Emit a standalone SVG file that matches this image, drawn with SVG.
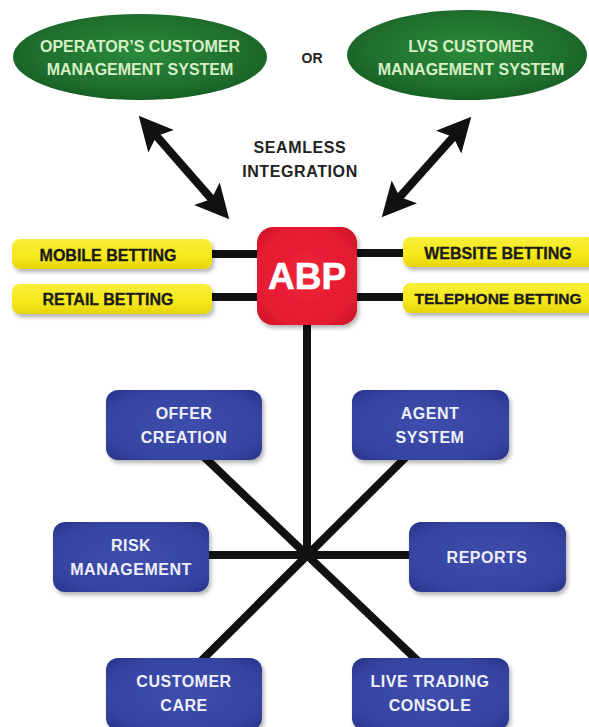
<svg xmlns="http://www.w3.org/2000/svg" width="589" height="727" viewBox="0 0 589 727">
<defs>
<radialGradient id="gGreen" cx="50%" cy="45%" r="60%">
<stop offset="0" stop-color="#2a8a3c"/><stop offset="0.7" stop-color="#1f6e2d"/><stop offset="1" stop-color="#155a22"/>
</radialGradient>
<radialGradient id="gBlue" cx="50%" cy="50%" r="70%">
<stop offset="0" stop-color="#3e4dac"/><stop offset="0.75" stop-color="#3543a0"/><stop offset="1" stop-color="#283288"/>
</radialGradient>
<radialGradient id="gRed" cx="50%" cy="50%" r="70%">
<stop offset="0" stop-color="#ef2438"/><stop offset="0.75" stop-color="#e31a30"/><stop offset="1" stop-color="#c40f25"/>
</radialGradient>
<linearGradient id="gYellow" x1="0" y1="0" x2="0" y2="1">
<stop offset="0" stop-color="#f8ee3a"/><stop offset="0.6" stop-color="#f5e81a"/><stop offset="1" stop-color="#e6d40c"/>
</linearGradient>
<filter id="sh" x="-10%" y="-20%" width="125%" height="150%">
<feDropShadow dx="2" dy="3" stdDeviation="2" flood-color="#000" flood-opacity="0.3"/>
</filter>
<marker id="ah" markerUnits="userSpaceOnUse" markerWidth="34" markerHeight="36" viewBox="0 0 34 36" refX="19" refY="18" orient="auto-start-reverse">
<path d="M0,1 L34,18 L0,35 L7,18 z" fill="#111"/>
</marker>
<style>
.ell{fill:url(#gGreen);}
.et{font-family:"Liberation Sans",Arial,sans-serif;font-weight:bold;font-size:16px;fill:#d6efc4;text-anchor:middle;}
.dt{font-family:"Liberation Sans",Arial,sans-serif;font-weight:bold;font-size:16px;fill:#222;text-anchor:middle;}
.yb{fill:url(#gYellow);filter:url(#sh);}
.yt{font-family:"Liberation Sans",Arial,sans-serif;font-weight:bold;font-size:16px;fill:#1a1a1a;stroke:#1a1a1a;stroke-width:0.3px;text-anchor:middle;}
.bb{fill:url(#gBlue);filter:url(#sh);}
.bt{font-family:"Liberation Sans",Arial,sans-serif;font-weight:bold;font-size:16px;letter-spacing:0.5px;fill:#eef0fa;text-anchor:middle;}
.ln{stroke:#111;stroke-width:8;fill:none;}
.ar{stroke:#111;stroke-width:8;fill:none;marker-start:url(#ah);marker-end:url(#ah);}
</style>
</defs>
<rect width="589" height="727" fill="#fff"/>

<g id="connectors">
<line class="ar" x1="148.6" y1="127" x2="219.4" y2="208"/>
<line class="ar" x1="461.3" y1="128" x2="391.7" y2="206"/>
<line class="ln" x1="205" y1="254" x2="262" y2="254"/>
<line class="ln" x1="205" y1="297" x2="262" y2="297"/>
<line class="ln" x1="352" y1="253" x2="408" y2="253"/>
<line class="ln" x1="352" y1="297" x2="408" y2="297"/>
<line class="ln" x1="307" y1="320" x2="307" y2="555"/>
<line class="ln" x1="200" y1="555" x2="415" y2="555"/>
<line class="ln" x1="199" y1="452" x2="420" y2="663"/>
<line class="ln" x1="410" y1="453" x2="199" y2="663"/>
</g>

<g id="operator-cms">
<ellipse class="ell" cx="140" cy="57" rx="127" ry="43"/>
<text class="et" x="140" y="52">OPERATOR’S CUSTOMER</text>
<text class="et" x="140" y="75">MANAGEMENT SYSTEM</text>
</g>
<g id="or-label">
<text class="dt" x="312" y="63" style="font-size:14px">OR</text>
</g>
<g id="lvs-cms">
<ellipse class="ell" cx="467" cy="55" rx="120" ry="45"/>
<text class="et" x="471" y="52">LVS CUSTOMER</text>
<text class="et" x="471" y="75">MANAGEMENT SYSTEM</text>
</g>
<g id="seamless-label">
<text class="dt" x="300" y="153" style="letter-spacing:0.6px">SEAMLESS</text>
<text class="dt" x="300" y="177" style="letter-spacing:0.6px">INTEGRATION</text>
</g>

<g id="abp">
<rect x="257" y="227" width="100" height="98" rx="16" fill="url(#gRed)" filter="url(#sh)"/>
<text x="307" y="289" font-family="Liberation Sans,Arial,sans-serif" font-weight="bold" font-size="37" fill="#fff" stroke="#fff" stroke-width="0.6" text-anchor="middle">ABP</text>
</g>

<g id="mobile-betting">
<rect class="yb" x="12" y="239" width="200" height="30" rx="8"/>
<text class="yt" x="108" y="261">MOBILE BETTING</text>
</g>
<g id="retail-betting">
<rect class="yb" x="12" y="284" width="200" height="30" rx="8"/>
<text class="yt" x="108" y="305">RETAIL BETTING</text>
</g>
<g id="website-betting">
<rect class="yb" x="403" y="237" width="196" height="30" rx="8"/>
<text class="yt" x="498" y="259">WEBSITE BETTING</text>
</g>
<g id="telephone-betting">
<rect class="yb" x="403" y="283" width="196" height="30" rx="8"/>
<text class="yt" x="498" y="304" style="font-size:15.5px">TELEPHONE BETTING</text>
</g>

<g id="offer-creation">
<rect class="bb" x="106" y="390" width="156" height="70" rx="12"/>
<text class="bt" x="184" y="419">OFFER</text>
<text class="bt" x="184" y="443">CREATION</text>
</g>
<g id="agent-system">
<rect class="bb" x="352" y="390" width="157" height="70" rx="12"/>
<text class="bt" x="430" y="419">AGENT</text>
<text class="bt" x="430" y="443">SYSTEM</text>
</g>
<g id="risk-management">
<rect class="bb" x="53" y="522" width="156" height="70" rx="12"/>
<text class="bt" x="131" y="551">RISK</text>
<text class="bt" x="131" y="575">MANAGEMENT</text>
</g>
<g id="reports">
<rect class="bb" x="409" y="522" width="157" height="70" rx="12"/>
<text class="bt" x="487" y="563">REPORTS</text>
</g>
<g id="customer-care">
<rect class="bb" x="106" y="658" width="156" height="72" rx="12"/>
<text class="bt" x="184" y="687">CUSTOMER</text>
<text class="bt" x="184" y="711">CARE</text>
</g>
<g id="live-trading-console">
<rect class="bb" x="352" y="658" width="157" height="72" rx="12"/>
<text class="bt" x="430" y="687">LIVE TRADING</text>
<text class="bt" x="430" y="711">CONSOLE</text>
</g>
</svg>
